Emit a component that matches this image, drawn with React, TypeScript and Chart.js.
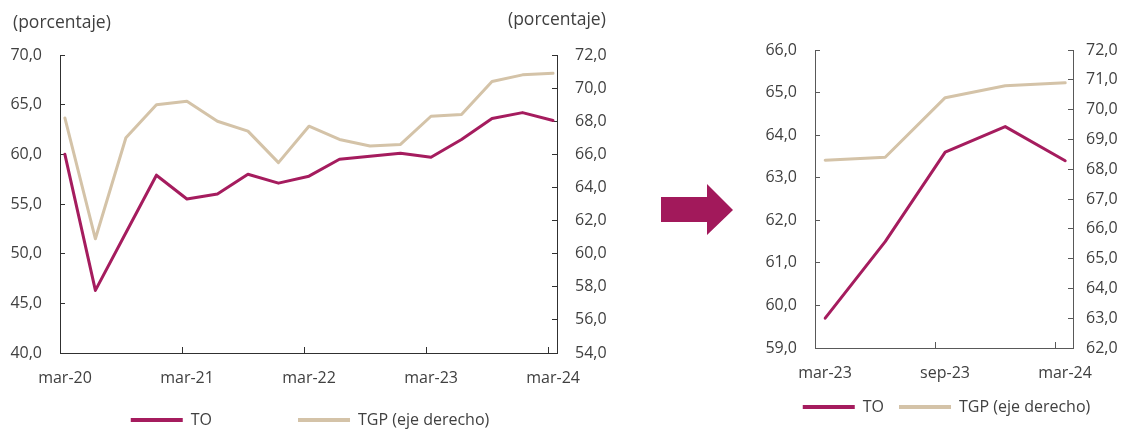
import React, { useEffect, useRef } from "react";
import { Chart, registerables } from "chart.js";

Chart.register(...registerables);

// ---------- data ----------
const quarters = [
  "mar-20", "jun-20", "sep-20", "dic-20",
  "mar-21", "jun-21", "sep-21", "dic-21",
  "mar-22", "jun-22", "sep-22", "dic-22",
  "mar-23", "jun-23", "sep-23", "dic-23",
  "mar-24",
];
const toValues = [
  60.0, 46.3, 52.1, 57.9,
  55.5, 56.0, 58.0, 57.1,
  57.8, 59.5, 59.8, 60.1,
  59.7, 61.5, 63.6, 64.2,
  63.4,
];
const tgpValues = [
  68.2, 60.9, 67.0, 69.0,
  69.2, 68.0, 67.4, 65.5,
  67.7, 66.9, 66.5, 66.6,
  68.3, 68.4, 70.4, 70.8,
  70.9,
];
const zoomStart = 12; // right panel: mar-23 .. mar-24
const leftTickIdx = [0, 4, 8, 12, 16];
const rightTickIdx = [0, 2, 4];
const seriesNames = ["TO", "TGP (eje derecho)"];
const unitLabel = "(porcentaje)";

// axis ranges
const leftTO = { min: 40, max: 70, step: 5 };
const leftTGP = { min: 54, max: 72, step: 2 };
const rightTO = { min: 59, max: 66, step: 1 };
const rightTGP = { min: 62, max: 72, step: 1 };

// ---------- style ----------
const FONT = "'Open Sans', 'Noto Sans', sans-serif";
const TEXT = "#404040";
const TO_COLOR = "#A51C5E";
const TGP_COLOR = "#D4C3A8";
const ARROW_COLOR = "#A2195B";

const fmt = (v: number) => v.toFixed(1).replace(".", ",");

type Range = { min: number; max: number; step: number };
type Spec = {
  left: number;
  width: number;
  height: number;
  labels: string[];
  to: number[];
  tgp: number[];
  tickIdx: number[];
  xMin: number;
  xMax: number;
  labelOffset: number;
  yl: Range;
  yr: Range;
  ylWidth: number;
  yrWidth: number;
  yrPad: number;
  xHeight: number;
  padding: { top: number; left: number; right: number; bottom: number };
  legendPad: number;
  spacer: boolean;
  axisColor: string;
};

function makeConfig(s: Spec): any {
  const font = { family: FONT, size: 16 };
  const yAxis = (r: Range, pos: "left" | "right", width: number, pad: number) => ({
    type: "linear",
    position: pos,
    min: r.min,
    max: r.max,
    ticks: {
      stepSize: r.step,
      callback: (v: number) => fmt(v),
      padding: pad,
      color: TEXT,
      font,
    },
    grid: {
      drawOnChartArea: false,
      drawTicks: true,
      tickLength: -5,
      color: s.axisColor,
      lineWidth: 1,
    },
    border: { display: true, color: s.axisColor, width: 1 },
    afterFit: (sc: any) => {
      sc.width = width;
    },
  });
  return {
    type: "line",
    data: {
      datasets: [
        {
          label: seriesNames[0],
          data: s.to.map((y, i) => ({ x: i, y })),
          borderColor: TO_COLOR,
          backgroundColor: TO_COLOR,
          borderWidth: 3,
          pointRadius: 0,
          borderJoinStyle: "round",
          borderCapStyle: "round",
          yAxisID: "y",
        },
        {
          label: seriesNames[1],
          data: s.tgp.map((y, i) => ({ x: i, y })),
          borderColor: TGP_COLOR,
          backgroundColor: TGP_COLOR,
          borderWidth: 3,
          pointRadius: 0,
          borderJoinStyle: "round",
          borderCapStyle: "round",
          yAxisID: "y1",
        },
      ],
    },
    options: {
      responsive: false,
      animation: false,
      events: [],
      layout: { padding: s.padding },
      scales: {
        x: {
          type: "linear",
          min: s.xMin,
          max: s.xMax,
          afterBuildTicks: (sc: any) => {
            sc.ticks = s.tickIdx.map((i) => ({ value: i + s.xMin }));
          },
          ticks: {
            autoSkip: false,
            maxRotation: 0,
            labelOffset: s.labelOffset,
            padding: 22,
            color: TEXT,
            font,
            callback: (_v: number, k: number) => s.labels[s.tickIdx[k]],
          },
          grid: {
            drawOnChartArea: false,
            drawTicks: true,
            tickLength: -6,
            color: s.axisColor,
            lineWidth: 1,
          },
          border: { display: true, color: s.axisColor, width: 1 },
          afterFit: (sc: any) => {
            sc.height = s.xHeight;
          },
        },
        y: yAxis(s.yl, "left", s.ylWidth, 23),
        y1: yAxis(s.yr, "right", s.yrWidth, s.yrPad),
      },
      plugins: {
        tooltip: { enabled: false },
        title: { display: false },
        legend: {
          position: "bottom",
          labels: {
            usePointStyle: true,
            pointStyle: "line",
            pointStyleWidth: 52,
            padding: s.legendPad,
            color: TEXT,
            font,
            generateLabels: (chart: any) => {
              const items = Chart.defaults.plugins.legend.labels
                .generateLabels(chart)
                .map((it: any) => ({ ...it, lineWidth: 4, lineCap: "butt" }));
              if (s.spacer) {
                items.splice(1, 0, {
                  text: "",
                  fillStyle: "rgba(0,0,0,0)",
                  strokeStyle: "rgba(0,0,0,0)",
                  lineWidth: 0,
                  hidden: false,
                  pointStyle: "line",
                  datasetIndex: -1,
                } as any);
              }
              return items;
            },
          },
        },
      },
    },
  };
}

const leftSpec: Spec = {
  left: 0,
  width: 620,
  height: 438,
  labels: quarters,
  to: toValues,
  tgp: tgpValues,
  tickIdx: leftTickIdx,
  xMin: -0.16,
  xMax: 16.13,
  labelOffset: 5,
  yl: leftTO,
  yr: leftTGP,
  ylWidth: 60,
  yrWidth: 63,
  yrPad: 23,
  xHeight: 46,
  padding: { top: 55, left: 0, right: 0, bottom: 0 },
  legendPad: 13,
  spacer: true,
  axisColor: "#303030",
};

const rightSpec: Spec = {
  left: 740,
  width: 387,
  height: 429,
  labels: quarters.slice(zoomStart),
  to: toValues.slice(zoomStart),
  tgp: tgpValues.slice(zoomStart),
  tickIdx: rightTickIdx,
  xMin: -0.17,
  xMax: 4.13,
  labelOffset: 10,
  yl: rightTO,
  yr: rightTGP,
  ylWidth: 49,
  yrWidth: 54,
  yrPad: 18,
  xHeight: 36,
  padding: { top: 50, left: 26, right: 0, bottom: 4 },
  legendPad: 15,
  spacer: false,
  axisColor: "#595959",
};

function Panel({ spec }: { spec: Spec }) {
  const ref = useRef<HTMLCanvasElement>(null);
  useEffect(() => {
    const chart = new Chart(ref.current as HTMLCanvasElement, makeConfig(spec));
    return () => chart.destroy();
  }, [spec]);
  return (
    <canvas
      ref={ref}
      width={spec.width}
      height={spec.height}
      style={{
        position: "absolute",
        left: spec.left,
        top: 0,
        width: spec.width,
        height: spec.height,
      }}
    />
  );
}

export default function App() {
  const unitStyle: React.CSSProperties = {
    position: "absolute",
    fontFamily: FONT,
    fontSize: 17.5,
    lineHeight: "20px",
    color: TEXT,
    whiteSpace: "nowrap",
  };
  return (
    <div
      style={{
        position: "absolute",
        left: 0,
        top: 0,
        width: 1127,
        height: 429,
        overflow: "hidden",
        background: "#ffffff",
      }}
    >
      <Panel spec={leftSpec} />
      <Panel spec={rightSpec} />
      <div style={{ ...unitStyle, left: 13, top: 11 }}>{unitLabel}</div>
      <div style={{ ...unitStyle, left: 508, top: 8 }}>{unitLabel}</div>
      <div
        style={{
          position: "absolute",
          left: 661,
          top: 184,
          width: 72,
          height: 51,
          background: ARROW_COLOR,
          clipPath:
            "polygon(0px 13px, 46px 13px, 46px 0px, 72px 26px, 46px 51px, 46px 38px, 0px 38px)",
        }}
      />
    </div>
  );
}
